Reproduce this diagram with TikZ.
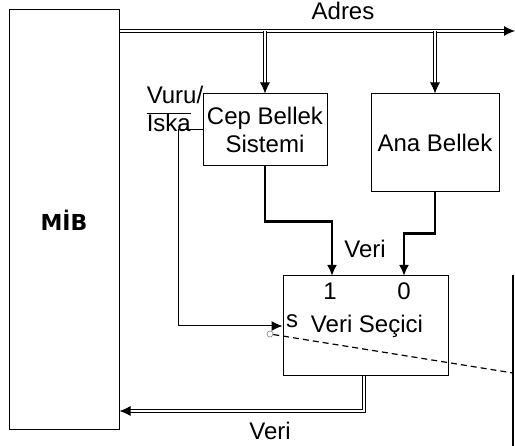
\documentclass[tikz,border=0pt]{standalone}
\usepackage{fontspec}
\setmainfont{Liberation Sans}
\newfontfamily\mibfont{DejaVu Sans}
\usetikzlibrary{positioning,arrows.meta}

\begin{document}
\begin{tikzpicture}[
    x=1pt, y=-1pt, % piksel koordinatlari
    font=\fontsize{24}{28}\selectfont,
    box/.style={draw, line width=1pt, align=center, inner sep=0pt},
    bus/.style={double, line width=0.9pt, double distance=1.4pt},
    tip/.style={-{Latex[length=11pt,width=10pt]}},
    wire/.style={line width=2.2pt},
    lbl/.style={inner sep=0pt}
]
\useasboundingbox (0,0) rectangle (515,446);

% --- Kutular ---
\node[box, minimum width=110pt, minimum height=420pt] (MIB) at (64,220) {\mibfont\bfseries\fontsize{22}{26}\selectfont M\.IB};
\node[box, minimum width=124pt, minimum height=72pt] (CEP) at (265,130) {Cep Bellek\\Sistemi};
\node[box, minimum width=128pt, minimum height=98pt] (ANA) at (435,143) {Ana Bellek};
\node[box, minimum width=165pt, minimum height=100pt] (SEC) at (365.5,326) {};

% Veri Secici icindeki yazilar
\node[lbl] (bir) at (330,291) {1};
\node[lbl] (sifir) at (404,291) {0};
\node[lbl] (s) at (292,321) {s};
\node[lbl] (sectxt) at (367,326) {Veri Seçici};

% etiketler
\node[lbl] (adres) at (343,11) {Adres};
\node[lbl, align=left] (vuru) at (175,109) {Vuru/\\$\overline{\mbox{Iska}}$};
\node[lbl] (veri1) at (365,249) {Veri};
\node[lbl] (veri2) at (270,431) {Veri};

% --- Baglanti noktalari ---
\coordinate (adresuc) at (515,31);
\coordinate (in1) at (332,276);
\coordinate (in0) at (404,276);
\coordinate (cikis) at (364,411);
\coordinate (sagust) at (513,275);
\coordinate (sagalt) at (513,446);
\coordinate (kesik) at (513,373);
\node[circle, draw=gray, line width=0.6pt, minimum size=6pt, inner sep=0pt] (nokta) at (270,334) {};

% adres yolu
\draw[bus, tip] (MIB.north east |- adresuc) -- (adresuc);
\draw[bus, tip] (CEP.north |- adresuc) -- (CEP.north);
\draw[bus, tip] (ANA.north |- adresuc) -- (ANA.north);

% veri yollari
\draw[wire, tip] (CEP.south) -- ++(0,55) -| (in1);
\draw[wire, tip] (ANA.south) -- ++(0,41) -| (in0);
\draw[bus, tip] (SEC.south -| cikis) -- (cikis) -- (cikis -| MIB.east);

% vuru/iska sinyali
\draw[line width=1pt, tip] (CEP.west) -- ++(-24,0) |- (SEC.west);

% sag kenar ve kesik cizgi
\draw[line width=2pt] (sagust) -- (sagalt);
\draw[line width=1.2pt, dash pattern=on 6pt off 4pt] (nokta) -- (kesik);

\end{tikzpicture}
\end{document}
